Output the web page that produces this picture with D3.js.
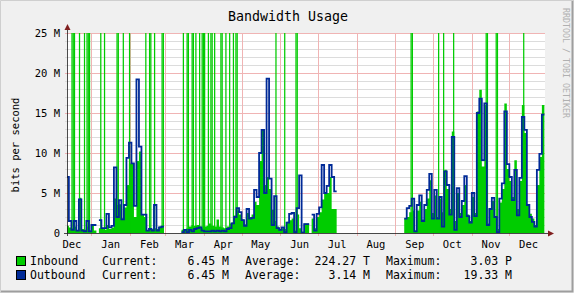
<!DOCTYPE html>
<html>
<head>
<meta charset="utf-8">
<script src="https://cdn.jsdelivr.net/npm/d3@7"></script>
<style>
  body { margin: 0; background: #f0f0f0; }
  text { font-family: "DejaVu Sans Mono", monospace; }
</style>
</head>
<body>
<svg id="chart"></svg>
<script>
// values in M bits/s, one value per 2 days starting 2009-12-12 (null = no data)
const seriesStart = Date.UTC(2009, 11, 12);
const stepDays = 2;

const inbound = [
  0.9, 0.7, 0.6, 0.8, 0.3, 4.4, 0.5, 0.4, 0.8, 0.3,
  0.9, 0.3, null, 0.6, 0.5, 0.4, 1.0, 0.5, 0.7, 4.3,
  3.5, 3.6, 1.8, 3.2, 6.0, 8.7, 8.7, 2.0, 9.0, 10.2,
  2.3, 2.0, 0.3, 0.6, 0.5, 0.6, 0.5, 0.8, 0.9, null,
  null, null, null, null, null, null, 0.4, 0.5, 0.6, 0.8,
  1.0, 0.9, 1.0, 0.8, 0.6, 0.8, 0.9, 1.2, 0.9, 0.8,
  1.7, 0.8, 0.7, 0.6, 0.8, 1.2, 1.3, 2.2, 2.8, 2.3,
  1.7, 1.1, 2.5, 2.0, 2.3, 3.9, 3.5, 9.0, 12.9, 6.0,
  7.0, 5.5, 2.9, 1.5, 0.8, 0.5, 0.6, 0.5, 1.4, 1.6,
  1.8, 0.3, 2.3, 0.6, 0.2, 1.2, 1.2, null, 1.8, 0.6,
  2.0, 2.6, 4.2, 5.0, 5.0, 7.0, 3.0, 3.0, null, null,
  null, null, null, null, null, null, null, null, null, null,
  null, null, null, null, null, null, null, null, null, null,
  null, null, null, null, null, 1.8, 2.0, 2.6, 2.8, 0.3,
  2.8, 3.9, 1.7, 3.0, 4.3, 6.6, 2.5, 4.7, 2.0, 4.3,
  2.6, 7.9, 5.5, 3.0, 12.7, 1.5, 5.0, 2.5, 3.5, 6.0,
  2.3, 1.5, 4.5, 2.5, 15.2, 17.9, 8.3, 16.0, 1.2, 3.0,
  4.0, 2.0, 0.5, 3.8, 5.5, 16.2, 8.0, 6.5, 4.5, 9.1,
  3.0, 6.5, 16.0, 12.5, 3.5, 2.4, 1.8, 1.0, 6.0, 9.5,
  16.0
];

const outbound = [
  7.0, 1.5, 0.4, 1.5, 0.3, 4.2, 0.3, 0.2, 1.5, 0.2,
  1.0, 1.0, null, 1.6, 0.6, 0.6, 2.4, 0.7, 0.9, 8.2,
  2.0, 4.1, 1.7, 3.5, 9.4, 11.3, 8.7, 3.4, 19.2, 10.8,
  2.3, 2.3, 0.3, 0.5, 0.3, 3.5, 0.3, 0.7, 0.8, null,
  null, null, null, null, null, null, 0.1, 0.4, 0.1, 0.4,
  0.2, 0.5, 0.6, 0.7, 0.3, 0.2, 0.2, 0.2, 0.3, 0.2,
  0.3, 0.2, 0.3, 0.2, 0.5, 0.6, 1.2, 2.0, 3.1, 2.6,
  1.6, 0.9, 3.0, 1.8, 1.9, 5.4, 4.5, 10.0, 12.9, 5.0,
  19.3, 6.8, 1.0, 4.6, 0.6, 0.4, 0.7, 0.1, 1.3, 2.4,
  2.5, 0.1, 3.1, 7.2, 0.0, 1.1, 1.1, null, 2.3, 0.3,
  2.4, 3.2, 8.5, 5.0, 5.9, 8.5, 7.0, 5.2, null, null,
  null, null, null, null, null, null, null, null, null, null,
  null, null, null, null, null, null, null, null, null, null,
  null, null, null, null, null, 1.8, 3.1, 3.4, 4.3, 0.2,
  3.5, 4.7, 1.5, 3.5, 5.4, 7.4, 1.8, 5.4, 1.8, 4.5,
  0.8, 7.7, 6.0, 2.3, 12.0, 0.4, 5.6, 2.0, 4.0, 7.1,
  2.1, 1.3, 5.0, 2.1, 15.0, 16.8, 9.1, 16.2, 1.0, 3.0,
  4.4, 2.0, 0.1, 4.3, 6.2, 15.2, 8.6, 7.0, 4.1, 7.9,
  2.2, 6.9, 14.5, 12.9, 3.5, 2.0, 1.4, 0.8, 7.9, 9.9,
  14.8
];

// days where inbound jumped far beyond the scale (max 3.03 P)
const inboundSpikeDays = [
  "2009-12-16", "2009-12-17", "2009-12-18", "2009-12-22", "2009-12-26",
  "2009-12-28", "2009-12-29", "2009-12-30",
  "2010-01-08", "2010-01-11", "2010-01-21", "2010-01-22", "2010-01-26", "2010-01-31",
  "2010-02-13", "2010-02-16", "2010-02-17", "2010-02-20", "2010-02-26", "2010-02-27",
  "2010-03-15", "2010-03-18", "2010-03-19", "2010-03-22", "2010-03-23", "2010-03-25",
  "2010-03-28", "2010-03-30", "2010-03-31",
  "2010-04-01", "2010-04-04", "2010-04-06", "2010-04-07", "2010-04-09", "2010-04-14",
  "2010-04-15", "2010-04-18", "2010-04-21", "2010-04-24", "2010-04-26", "2010-04-27",
  "2010-05-28", "2010-06-04", "2010-06-13", "2010-06-14",
  "2010-09-13", "2010-09-14", "2010-10-05", "2010-10-09", "2010-10-17",
  "2010-11-12", "2010-11-13", "2010-11-20", "2010-11-21", "2010-12-12"
];
const inboundSpikeValue = 3.03e9;

const yTicks = [0, 5, 10, 15, 20, 25];
const legendNames = ["Inbound", "Outbound"];
const legendCurrent = ["6.45 M", "6.45 M"];
const legendAverage = ["224.27 T", "3.14 M"];
const legendMaximum = ["3.03 P", "19.33 M"];

const W = 574, H = 293;
const plotL = 67, plotR = 545, plotT = 33, plotB = 233;
const green = "#00cc00", blue = "#002a97";

const svg = d3.select("#chart").attr("width", W).attr("height", H);

// background + 3d shade
svg.append("rect").attr("width", W).attr("height", H).attr("fill", "#f0f0f0");
svg.append("path").attr("d", `M0.5,${H} V0.5 H${W}`).attr("fill", "none").attr("stroke", "#cfcfcf");
svg.append("path").attr("d", `M1,${H - 1.5} H${W - 1.5} V1`).attr("fill", "none").attr("stroke", "#9e9e9e").attr("stroke-width", 2);

svg.append("rect").attr("x", plotL).attr("y", plotT).attr("width", plotR - plotL).attr("height", plotB - plotT).attr("fill", "#fff");

const x = d3.scaleUtc()
  .domain([new Date(Date.UTC(2009, 11, 12, 12)), new Date(Date.UTC(2010, 11, 29, 12))])
  .range([plotL, plotR]);
const y = d3.scaleLinear().domain([0, 25]).range([plotB, plotT]).clamp(true);

// grid
const grid = svg.append("g");
d3.range(1, 26).filter(v => v % 5 !== 0).forEach(v => {
  grid.append("line").attr("x1", plotL - 2).attr("x2", plotR)
    .attr("y1", Math.round(y(v)) + 0.5).attr("y2", Math.round(y(v)) + 0.5)
    .attr("stroke", "#dcdcdc");
});
const monthStarts = d3.utcMonth.range(x.domain()[0], x.domain()[1]);
monthStarts.forEach(m => {
  const px = Math.round(x(m)) + 0.5;
  grid.append("line").attr("x1", px).attr("x2", px).attr("y1", plotT).attr("y2", plotB + 3)
    .attr("stroke", "#f0b4b4");
});
yTicks.filter(v => v > 0).forEach(v => {
  grid.append("line").attr("x1", plotL - 2).attr("x2", plotR)
    .attr("y1", Math.round(y(v)) + 0.5).attr("y2", Math.round(y(v)) + 0.5)
    .attr("stroke", "#f0b4b4");
});

// data
svg.append("clipPath").attr("id", "plot").append("rect")
  .attr("x", plotL).attr("y", plotT).attr("width", plotR - plotL).attr("height", plotB - plotT);

function stepPoints(values) {
  const pts = [];
  values.forEach((v, i) => {
    const t0 = new Date(seriesStart + i * stepDays * 864e5);
    const t1 = new Date(seriesStart + (i + 1) * stepDays * 864e5);
    if (v == null) pts.push({t: t0, v: null});
    else pts.push({t: t0, v: v}, {t: t1, v: v});
  });
  return pts;
}

const plot = svg.append("g").attr("clip-path", "url(#plot)");

plot.append("path")
  .attr("d", d3.area().defined(p => p.v != null)
    .x(p => x(p.t)).y0(y(0)).y1(p => y(p.v))(stepPoints(inbound)))
  .attr("fill", green);

plot.selectAll("rect.spike").data(inboundSpikeDays).join("rect")
  .attr("class", "spike")
  .attr("x", d => x(new Date(d)))
  .attr("width", d => x(d3.utcDay.offset(new Date(d), 1)) - x(new Date(d)))
  .attr("y", y(inboundSpikeValue))
  .attr("height", y(0) - y(inboundSpikeValue))
  .attr("fill", green);

plot.append("path")
  .attr("d", d3.line().defined(p => p.v != null)
    .x(p => x(p.t)).y(p => y(p.v))(stepPoints(outbound)))
  .attr("fill", "none").attr("stroke", blue).attr("stroke-width", 1.8);

// axes
const arrow = "#801f1f", axisCol = "#1f1f1f";
svg.append("line").attr("x1", plotL - 3).attr("x2", plotR + 4).attr("y1", plotB + 0.5).attr("y2", plotB + 0.5).attr("stroke", axisCol).attr("opacity", 0.8);
svg.append("line").attr("x1", plotL + 0.5).attr("x2", plotL + 0.5).attr("y1", plotB + 3).attr("y2", plotT - 4).attr("stroke", axisCol).attr("opacity", 0.8);
svg.append("path").attr("d", `M${plotR + 3},${plotB - 2.5} L${plotR + 9},${plotB + 0.5} L${plotR + 3},${plotB + 3.5} Z`).attr("fill", arrow);
svg.append("path").attr("d", `M${plotL - 2.5},${plotT - 3} L${plotL + 0.5},${plotT - 9} L${plotL + 3.5},${plotT - 3} Z`).attr("fill", arrow);

const yAxis = d3.axisLeft(y).tickValues(yTicks)
  .tickFormat(d => d === 0 ? "0" : d + " M").tickSize(0).tickPadding(7);
svg.append("g").attr("transform", `translate(${plotL},0)`).call(yAxis)
  .call(g => g.select(".domain").remove())
  .call(g => g.selectAll("text").attr("font-family", "DejaVu Sans Mono").attr("font-size", 10.5).attr("fill", "#000"));

const monthMids = d3.utcMonth.range(d3.utcMonth.floor(x.domain()[0]), x.domain()[1])
  .map(m => d3.utcDay.offset(m, 15));
const xAxis = d3.axisBottom(x).tickValues(monthMids)
  .tickFormat(d3.utcFormat("%b")).tickSize(0).tickPadding(8);
svg.append("g").attr("transform", `translate(0,${plotB})`).call(xAxis)
  .call(g => g.select(".domain").remove())
  .call(g => g.selectAll("text").attr("font-family", "DejaVu Sans Mono").attr("font-size", 10.5).attr("fill", "#000"));

// titles
svg.append("text").attr("x", 288).attr("y", 21).attr("text-anchor", "middle")
  .attr("font-size", 13.3).text("Bandwidth Usage");
svg.append("text").attr("transform", "translate(19,145) rotate(-90)").attr("text-anchor", "middle")
  .attr("font-size", 10.5).text("bits per second");
svg.append("text").attr("transform", "translate(563,8) rotate(90)").attr("text-anchor", "start")
  .attr("font-size", 8.3).attr("fill", "#b0b0b0").text("RRDTOOL / TOBI OETIKER");

// legend
const legend = svg.append("g").attr("font-size", 11.5);
const rowY = [265, 279];
const colors = [green, blue];
legendNames.forEach((name, i) => {
  legend.append("rect").attr("x", 16.5).attr("y", rowY[i] - 8.5).attr("width", 9).attr("height", 9)
    .attr("fill", colors[i]).attr("stroke", "#000");
  legend.append("text").attr("x", 30).attr("y", rowY[i]).text(name);
  legend.append("text").attr("x", 102).attr("y", rowY[i]).text("Current:");
  legend.append("text").attr("x", 229).attr("y", rowY[i]).attr("text-anchor", "end").text(legendCurrent[i]);
  legend.append("text").attr("x", 245).attr("y", rowY[i]).text("Average:");
  legend.append("text").attr("x", 370).attr("y", rowY[i]).attr("text-anchor", "end").text(legendAverage[i]);
  legend.append("text").attr("x", 386).attr("y", rowY[i]).text("Maximum:");
  legend.append("text").attr("x", 512).attr("y", rowY[i]).attr("text-anchor", "end").text(legendMaximum[i]);
});
</script>
</body>
</html>
